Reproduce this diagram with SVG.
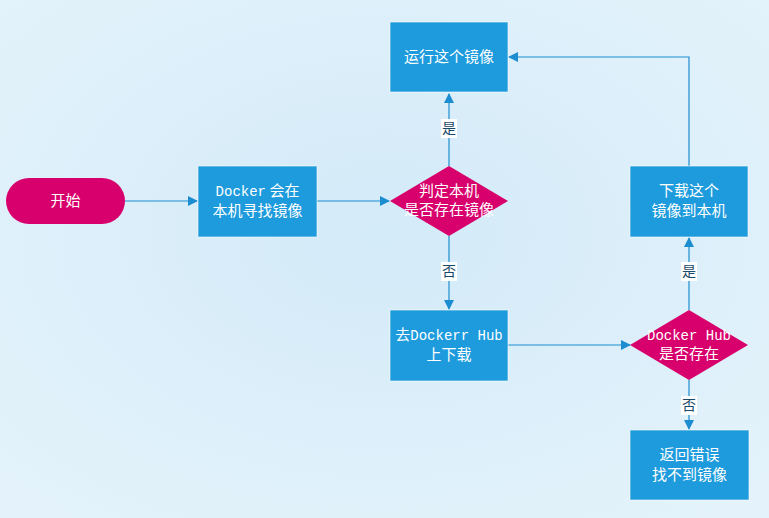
<svg xmlns="http://www.w3.org/2000/svg" width="769" height="518" viewBox="0 0 769 518">
<defs>
<radialGradient id="bg" cx="0.5" cy="0.45" r="0.7">
<stop offset="0" stop-color="#d3eaf8"/>
<stop offset="1" stop-color="#e4f3fb"/>
</radialGradient>
<marker id="ah" markerWidth="10" markerHeight="10" refX="9" refY="5" orient="auto" markerUnits="userSpaceOnUse">
<path d="M0,0 L10,5 L0,10 Z" fill="#1b8dd0"/>
</marker>
<style>
.box{fill:#1d9bdc;stroke:#ffffff;stroke-opacity:0.6;stroke-width:1}
.pink{fill:#d8006c}
.t{font-family:"Noto Sans CJK SC","Liberation Sans",sans-serif;font-size:15px;fill:#ffffff;text-anchor:middle}
.m{font-family:"Liberation Mono","Noto Sans CJK SC",monospace;font-size:14px}
.c{fill:none;stroke:#1b8dd0;stroke-width:1.2}
.lb{fill:#ffffff}
.lt{font-family:"Noto Sans CJK SC",sans-serif;font-size:14px;fill:#1a4a6a;text-anchor:middle}
</style>
</defs>
<rect width="769" height="518" fill="url(#bg)"/>
<g id="connectors">
<path class="c" d="M125,201 L197,201" marker-end="url(#ah)"/>
<path class="c" d="M317,201 L389,201" marker-end="url(#ah)"/>
<path class="c" d="M449,166 L449,94" marker-end="url(#ah)"/>
<path class="c" d="M449,236 L449,309" marker-end="url(#ah)"/>
<path class="c" d="M508,345 L630,345" marker-end="url(#ah)"/>
<path class="c" d="M689,310 L689,238" marker-end="url(#ah)"/>
<path class="c" d="M689,166 L689,57 L509,57" marker-end="url(#ah)"/>
<path class="c" d="M689,380 L689,429" marker-end="url(#ah)"/>
<rect class="lb" x="441" y="119" width="16" height="19"/>
<text class="lt" x="449" y="133">是</text>
<rect class="lb" x="441" y="262" width="16" height="19"/>
<text class="lt" x="449" y="276">否</text>
<rect class="lb" x="681" y="262" width="16" height="19"/>
<text class="lt" x="689" y="276">是</text>
<rect class="lb" x="681" y="396" width="16" height="19"/>
<text class="lt" x="689" y="410">否</text>
</g>
<g id="start">
<rect class="pink" x="6" y="178" width="119" height="46" rx="23"/>
<text class="t" x="65.5" y="206">开始</text>
</g>
<g id="find">
<rect class="box" x="198" y="166" width="119" height="71"/>
<text class="t" x="257.5" y="196"><tspan class="m">Docker</tspan> 会在</text>
<text class="t" x="257.5" y="216">本机寻找镜像</text>
</g>
<g id="check-local">
<polygon class="pink" points="390,201 449,166 508,201 449,236"/>
<text class="t" x="449" y="196">判定本机</text>
<text class="t" x="449" y="215">是否存在镜像</text>
</g>
<g id="run">
<rect class="box" x="390" y="22" width="118" height="70"/>
<text class="t" x="449" y="62">运行这个镜像</text>
</g>
<g id="pull">
<rect class="box" x="390" y="310" width="118" height="71"/>
<text class="t" x="449" y="340">去<tspan class="m">Dockerr Hub</tspan></text>
<text class="t" x="449" y="360">上下载</text>
</g>
<g id="check-hub">
<polygon class="pink" points="630,345 689,310 748,345 689,380"/>
<text class="t" x="689" y="340"><tspan class="m">Docker Hub</tspan></text>
<text class="t" x="689" y="359">是否存在</text>
</g>
<g id="download">
<rect class="box" x="630" y="166" width="118" height="71"/>
<text class="t" x="689" y="196">下载这个</text>
<text class="t" x="689" y="216">镜像到本机</text>
</g>
<g id="error">
<rect class="box" x="630" y="430" width="119" height="70"/>
<text class="t" x="689.5" y="460">返回错误</text>
<text class="t" x="689.5" y="480">找不到镜像</text>
</g>
</svg>
